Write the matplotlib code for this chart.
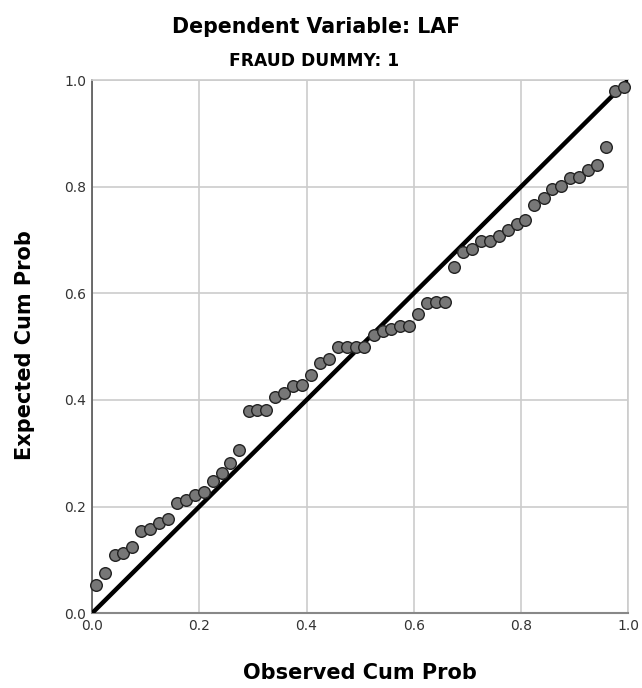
import matplotlib
matplotlib.use("Agg")
import matplotlib.pyplot as plt

observed = [0.008, 0.025, 0.042, 0.058, 0.075, 0.092, 0.108, 0.125, 0.142, 0.158,
            0.175, 0.192, 0.208, 0.225, 0.242, 0.258, 0.275, 0.292, 0.308, 0.325,
            0.342, 0.358, 0.375, 0.392, 0.408, 0.425, 0.442, 0.458, 0.475, 0.492,
            0.508, 0.525, 0.542, 0.558, 0.575, 0.592, 0.608, 0.625, 0.642, 0.658,
            0.675, 0.692, 0.708, 0.725, 0.742, 0.758, 0.775, 0.792, 0.808, 0.825,
            0.842, 0.858, 0.875, 0.892, 0.908, 0.925, 0.942, 0.958, 0.975, 0.992]
expected = [0.053, 0.076, 0.109, 0.113, 0.125, 0.154, 0.158, 0.170, 0.176, 0.206,
            0.212, 0.221, 0.227, 0.248, 0.264, 0.281, 0.306, 0.379, 0.381, 0.381,
            0.406, 0.413, 0.426, 0.429, 0.446, 0.469, 0.477, 0.500, 0.500, 0.500,
            0.500, 0.522, 0.529, 0.533, 0.539, 0.539, 0.561, 0.582, 0.583, 0.584,
            0.650, 0.678, 0.684, 0.699, 0.699, 0.708, 0.719, 0.730, 0.737, 0.766,
            0.779, 0.795, 0.802, 0.817, 0.818, 0.831, 0.841, 0.874, 0.979, 0.986]
ticks = [0.0, 0.2, 0.4, 0.6, 0.8, 1.0]
tick_labels = ["0.0", "0.2", "0.4", "0.6", "0.8", "1.0"]

fig = plt.figure(figsize=(6.42, 6.88), dpi=100)
ax = fig.add_axes([92/642, 1-613.3/688, (628.3-92)/642, (613.3-80)/688])

ax.set_xlim(0, 1)
ax.set_ylim(0, 1)
ax.set_xticks(ticks)
ax.set_yticks(ticks)
ax.set_xticklabels(tick_labels)
ax.set_yticklabels(tick_labels)
ax.tick_params(length=0, labelsize=10, labelcolor="#333333", pad=4)
ax.grid(True, color="#cccccc", linewidth=1.2)
ax.set_axisbelow(True)
for side in ["top", "right"]:
    ax.spines[side].set_color("#cccccc")
    ax.spines[side].set_linewidth(1.2)
ax.spines["left"].set_color("#555555")
ax.spines["bottom"].set_color("#888888")
ax.spines["left"].set_linewidth(1.2)
ax.spines["bottom"].set_linewidth(1.5)

ax.plot([0, 1], [0, 1], color="black", linewidth=3.2, zorder=3, solid_capstyle="round")
ax.scatter(observed, expected, s=70, facecolor="#777777", edgecolor="#222222",
           linewidth=1.0, zorder=4, clip_on=False)

fig.text(316/642, 1 - 27/688, "Dependent Variable: LAF", ha="center", va="center",
         fontsize=14.8, fontweight="bold")
fig.text(314/642, 1 - 61/688, "FRAUD DUMMY: 1", ha="center", va="center",
         fontsize=12.3, fontweight="bold")
fig.text(360/642, 1 - 673/688, "Observed Cum Prob", ha="center", va="center",
         fontsize=15, fontweight="bold")
fig.text(25/642, 1 - 345/688, "Expected Cum Prob", ha="center", va="center",
         fontsize=15, fontweight="bold", rotation=90)

fig.savefig("out.png", dpi=100)
